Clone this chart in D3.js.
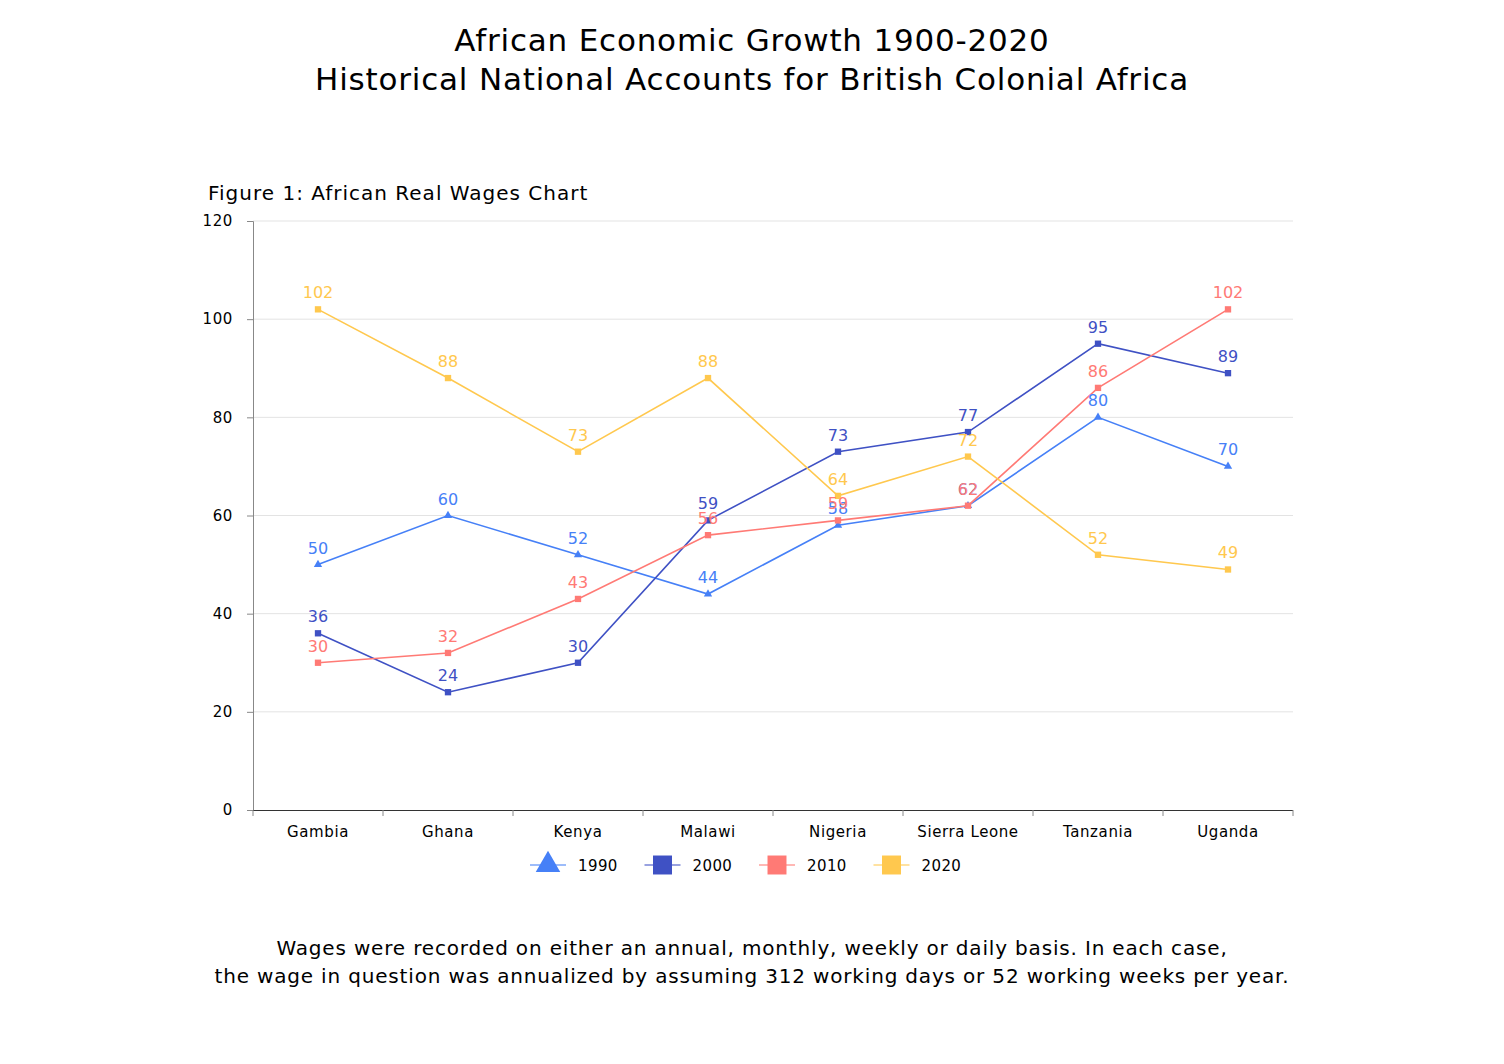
<!DOCTYPE html>
<html><head><meta charset="utf-8">
<script src="https://cdn.jsdelivr.net/npm/d3@7"></script>
<style>
body{margin:0;background:#fff;}
svg{font-family:"DejaVu Sans",Verdana,sans-serif;}
</style></head>
<body>
<svg id="chart" width="1504" height="1064"></svg>
<script>
const categories = ["Gambia","Ghana","Kenya","Malawi","Nigeria","Sierra Leone","Tanzania","Uganda"];
const seriesNames = ["1990","2000","2010","2020"];
const values1990 = [50,60,52,44,58,62,80,70];
const values2000 = [36,24,30,59,73,77,95,89];
const values2010 = [30,32,43,56,59,62,86,102];
const values2020 = [102,88,73,88,64,72,52,49];
const yTicks = [0,20,40,60,80,100,120];
const colors = ["#4680F7","#3F51C4","#FF7A75","#FFC84E"];
const markers = ["triangle","square","square","square"];
const titleLines = ["African Economic Growth 1900-2020","Historical National Accounts for British Colonial Africa"];
const subtitle = "Figure 1: African Real Wages Chart";
const footerLines = ["Wages were recorded on either an annual, monthly, weekly or daily basis. In each case,","the wage in question was annualized by assuming 312 working days or 52 working weeks per year."];

(function(){
const series = [values1990, values2000, values2010, values2020].map((v,i)=>({name:seriesNames[i], values:v, color:colors[i], marker:markers[i]}));

const svg = d3.select("#chart");
const pl=253, pr=1293, pt=221, pb=810;
const x = d3.scaleBand().domain(categories).range([pl,pr]);
const y = d3.scaleLinear().domain([0,120]).range([pb,pt]);

// titles
svg.append("g").selectAll("text").data(titleLines).join("text")
  .attr("x",752).attr("y",(d,i)=>51+i*39).attr("text-anchor","middle")
  .attr("font-size",31).attr("letter-spacing",0.8).attr("fill","#000").text(d=>d);
svg.append("text").attr("x",208).attr("y",200).attr("font-size",20).attr("letter-spacing",1).attr("fill","#000").text(subtitle);

// gridlines
svg.append("g").selectAll("line").data(yTicks.filter(t=>t>0)).join("line")
  .attr("x1",pl).attr("x2",pr).attr("y1",d=>y(d)).attr("y2",d=>y(d))
  .attr("stroke","#e3e3e3").attr("stroke-width",1);

// y axis
const yAxis = svg.append("g").attr("transform",`translate(${pl},0)`)
  .call(d3.axisLeft(y).tickValues(yTicks).tickSize(6).tickPadding(14));
yAxis.select(".domain").attr("stroke","#888");
yAxis.selectAll(".tick line").attr("stroke","#888");
yAxis.selectAll("text").attr("font-size",15).attr("letter-spacing",0.6).attr("fill","#000").attr("font-family","DejaVu Sans, Verdana, sans-serif");

// x axis
const xAxis = svg.append("g").attr("transform",`translate(0,${pb})`)
  .call(d3.axisBottom(x).tickSize(0).tickPadding(16));
xAxis.select(".domain").attr("stroke","#333").attr("d",`M${pl},0.5H${pr}`);
xAxis.selectAll("text").attr("font-size",15).attr("letter-spacing",0.6).attr("fill","#000").attr("font-family","DejaVu Sans, Verdana, sans-serif");
// boundary ticks
svg.append("g").selectAll("line").data(d3.range(categories.length+1)).join("line")
  .attr("x1",d=>pl+d*x.step()).attr("x2",d=>pl+d*x.step())
  .attr("y1",pb).attr("y2",pb+6).attr("stroke","#888");

const line = d3.line().x((d,i)=>x(categories[i])+x.bandwidth()/2).y(d=>y(d));
const sym = m => m==="triangle" ? d3.symbolTriangle : d3.symbolSquare;

series.forEach(s=>{
  const g = svg.append("g");
  g.append("path").datum(s.values).attr("d",line).attr("fill","none").attr("stroke",s.color).attr("stroke-width",1.6);
  g.selectAll("path.m").data(s.values).join("path").attr("class","m")
    .attr("transform",(d,i)=>`translate(${x(categories[i])+x.bandwidth()/2},${y(d)})`)
    .attr("d",d3.symbol().type(sym(s.marker)).size(s.marker==="triangle"?30:40)).attr("fill",s.color);
});
series.forEach(s=>{
  svg.append("g").selectAll("text").data(s.values).join("text")
    .attr("x",(d,i)=>x(categories[i])+x.bandwidth()/2).attr("y",d=>y(d)-11)
    .attr("text-anchor","middle").attr("font-size",16).attr("fill",s.color).text(d=>d);
});

// legend
const lg = svg.append("g");
series.forEach((s,i)=>{
  const lx = 530 + i*114.5, ly = 865;
  lg.append("line").attr("x1",lx).attr("x2",lx+36).attr("y1",ly).attr("y2",ly).attr("stroke",s.color).attr("stroke-width",1.5).attr("opacity",0.7);
  lg.append("path").attr("transform",`translate(${lx+18},${ly})`)
    .attr("d",d3.symbol().type(sym(s.marker)).size(s.marker==="triangle"?260:360)).attr("fill",s.color);
  lg.append("text").attr("x",lx+48).attr("y",ly+6).attr("font-size",15).attr("letter-spacing",0.4).attr("fill","#000").text(s.name);
});

// footer
svg.append("g").selectAll("text").data(footerLines).join("text")
  .attr("x",752).attr("y",(d,i)=>955+i*28).attr("text-anchor","middle")
  .attr("font-size",20).attr("letter-spacing",0.83).attr("fill","#000").text(d=>d);
})();
</script>
</body></html>
